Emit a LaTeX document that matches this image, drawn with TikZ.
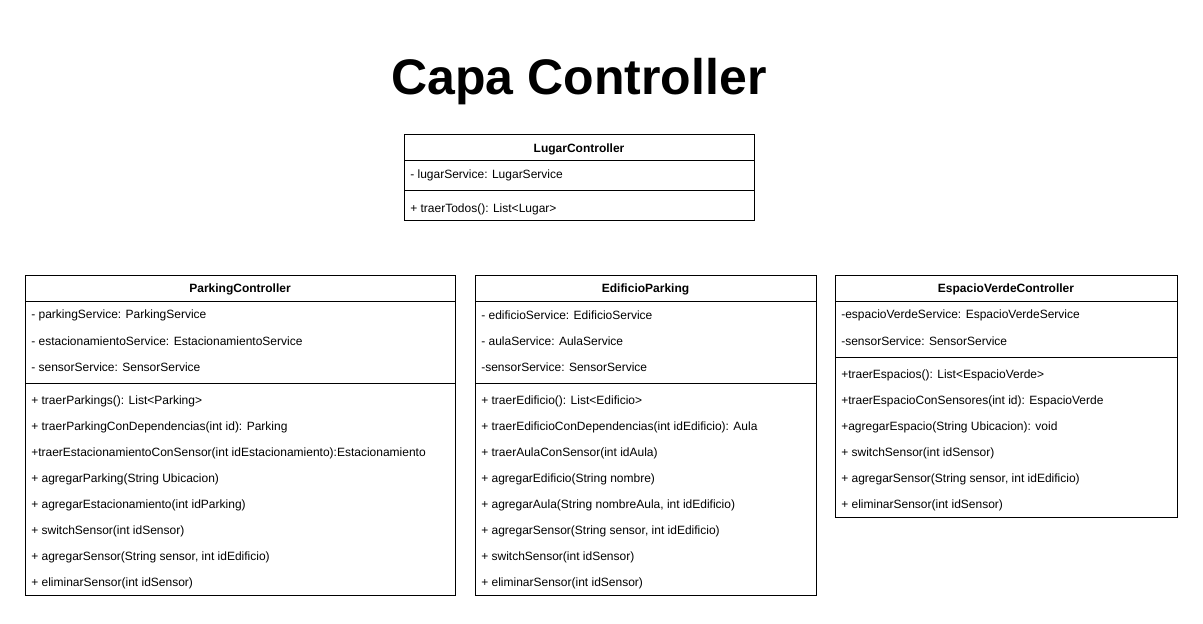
\documentclass[tikz,border=0pt]{standalone}
\usepackage{fontspec}
\setmainfont{Liberation Sans}
\usetikzlibrary{positioning}

\tikzset{
  classbox/.style={draw=black, line width=0.75pt},
  classname/.style={inner sep=0pt, font=\fontsize{9}{11}\selectfont\bfseries},
  member/.style={anchor=west, inner sep=0pt, font=\fontsize{9}{11}\selectfont},
}

\begin{document}
\begin{tikzpicture}[x=0.75pt, y=-0.75pt]
  \useasboundingbox (0,0) rectangle (1203,624);
  % Title
  \node[font=\fontsize{37.5}{42}\selectfont\bfseries] (title) at (579,82) {Capa Controller};

  % LugarController
  \draw[classbox] (404,135) rectangle (754,221);
  \draw[classbox] (404,161) -- (754,161) (404,191) -- (754,191);
  \node[classname] (lugar) at (579,149) {LugarController};
  \node[member] (lugarA1) at (410,175.5) {- lugarService: LugarService};
  \node[member] (lugarM1) at (410,209.5) {+ traerTodos(): List<Lugar>};

  % ParkingController
  \draw[classbox] (25,275) rectangle (455,595);
  \draw[classbox] (25,301) -- (455,301) (25,383) -- (455,383);
  \node[classname] (parking) at (240,289) {ParkingController};
  \foreach \t [count=\i] in {- parkingService: ParkingService,
      - estacionamientoService: EstacionamientoService,
      - sensorService: SensorService}
    {\node[member] (parkingA\i) at (31,{289.5+26*\i}) {\t};}
  \foreach \t [count=\i] in {+ traerParkings(): List<Parking>,
      + traerParkingConDependencias(int id): Parking,
      +traerEstacionamientoConSensor(int idEstacionamiento):Estacionamiento,
      + agregarParking(String Ubicacion),
      + agregarEstacionamiento(int idParking),
      + switchSensor(int idSensor),
      {+ agregarSensor(String sensor, int idEdificio)},
      + eliminarSensor(int idSensor)}
    {\node[member] (parkingM\i) at (31,{375.5+26*\i}) {\t};}

  % EdificioParking
  \draw[classbox] (475,275) rectangle (816,595);
  \draw[classbox] (475,301) -- (816,301) (475,383) -- (816,383);
  \node[classname] (edificio) at (645.5,289) {EdificioParking};
  \foreach \t [count=\i] in {- edificioService: EdificioService,
      - aulaService: AulaService,
      -sensorService: SensorService}
    {\node[member] (edificioA\i) at (481,{289.5+26*\i}) {\t};}
  \foreach \t [count=\i] in {+ traerEdificio(): List<Edificio>,
      + traerEdificioConDependencias(int idEdificio): Aula,
      + traerAulaConSensor(int idAula),
      + agregarEdificio(String nombre),
      {+ agregarAula(String nombreAula, int idEdificio)},
      {+ agregarSensor(String sensor, int idEdificio)},
      + switchSensor(int idSensor),
      + eliminarSensor(int idSensor)}
    {\node[member] (edificioM\i) at (481,{375.5+26*\i}) {\t};}

  % EspacioVerdeController
  \draw[classbox] (835,275) rectangle (1177,517);
  \draw[classbox] (835,301) -- (1177,301) (835,357) -- (1177,357);
  \node[classname] (espacio) at (1006,289) {EspacioVerdeController};
  \foreach \t [count=\i] in {-espacioVerdeService: EspacioVerdeService,
      -sensorService: SensorService}
    {\node[member] (espacioA\i) at (841,{289.5+26*\i}) {\t};}
  \foreach \t [count=\i] in {+traerEspacios(): List<EspacioVerde>,
      +traerEspacioConSensores(int id): EspacioVerde,
      +agregarEspacio(String Ubicacion): void,
      + switchSensor(int idSensor),
      {+ agregarSensor(String sensor, int idEdificio)},
      + eliminarSensor(int idSensor)}
    {\node[member] (espacioM\i) at (841,{349.5+26*\i}) {\t};}
\end{tikzpicture}
\end{document}
